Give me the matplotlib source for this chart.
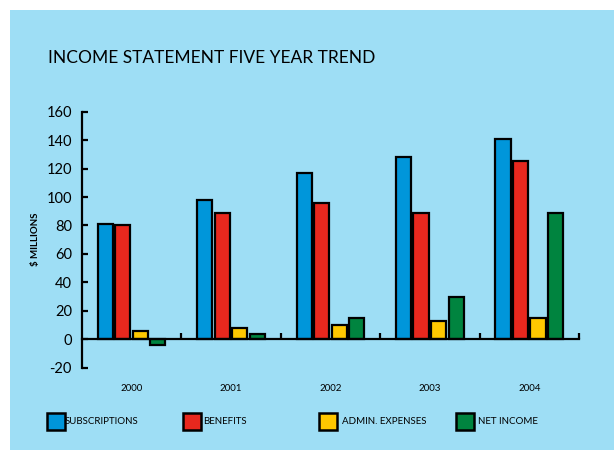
import matplotlib
matplotlib.use("Agg")
import matplotlib.pyplot as plt
from matplotlib.patches import Rectangle
import numpy as np

plt.rcParams['font.family'] = ['Lato', 'DejaVu Sans']

years = ['2000', '2001', '2002', '2003', '2004']
series = ['SUBSCRIPTIONS', 'BENEFITS', 'ADMIN. EXPENSES', 'NET INCOME']
subscriptions = [81, 98, 117, 128, 141]
benefits = [80, 89, 96, 89, 125]
admin_expenses = [6, 8, 10, 13, 15]
net_income = [-4, 4, 15, 30, 89]
yticks = [-20, 0, 20, 40, 60, 80, 100, 120, 140, 160]

colors = ['#0096DA', '#E8281E', '#FFC800', '#00843F']
bg = '#9EDEF5'

fig = plt.figure(figsize=(6.14, 4.5), dpi=100)
fig.patches.append(Rectangle((10 / 614, 0), 1, 440 / 450, transform=fig.transFigure,
                             facecolor=bg, edgecolor='none', zorder=-10))

ax = fig.add_axes([81.7 / 614, 1 - 367.7 / 450, (579 - 81.7) / 614, (367.7 - 111.7) / 450])
ax.set_facecolor('none')

x = np.arange(len(years))
pitch = 0.176
width = 0.152
data = [subscriptions, benefits, admin_expenses, net_income]
for i, (vals, c) in enumerate(zip(data, colors)):
    ax.bar(x + (i - 1.5) * pitch, vals, width, color=c, edgecolor='black',
           linewidth=1.6, zorder=3)

ax.set_xlim(-0.5, 4.5)
ax.set_ylim(-20, 160)
ax.set_yticks(yticks)
ax.set_yticklabels([str(v) for v in yticks], fontsize=10.5)

for s in ['top', 'right']:
    ax.spines[s].set_visible(False)
ax.spines['bottom'].set_position(('data', 0))
ax.spines['bottom'].set_zorder(4)
for s in ['left', 'bottom']:
    ax.spines[s].set_linewidth(1.6)

ax.tick_params(axis='y', direction='in', length=4, width=1.6, pad=7)
ax.set_xticks(x)
ax.set_xticklabels(years, fontsize=7)
ax.set_xticks(x + 0.5, minor=True)
ax.tick_params(axis='x', which='major', length=0, pad=32)
ax.tick_params(axis='x', which='minor', direction='in', length=4.5, width=1.6)

ax.set_ylabel('$ MILLIONS', fontsize=7, fontweight='bold', labelpad=5)

fig.text(48 / 614, 1 - 57.7 / 450, 'INCOME STATEMENT FIVE YEAR TREND',
         fontsize=12.5, va='center', ha='left')

# legend row along the bottom
key_x = [47, 183, 319, 456]
text_x = [65, 203, 342, 478]
for name, c, kx, tx in zip(series, colors, key_x, text_x):
    fig.patches.append(Rectangle((kx / 614, 1 - 430 / 450), 18 / 614, 17 / 450,
                                 transform=fig.transFigure, facecolor=c,
                                 edgecolor='black', linewidth=1.8))
    fig.text(tx / 614, 1 - 421 / 450, name, fontsize=7, va='center', ha='left')

fig.savefig('out.png', dpi=100, facecolor='white')
